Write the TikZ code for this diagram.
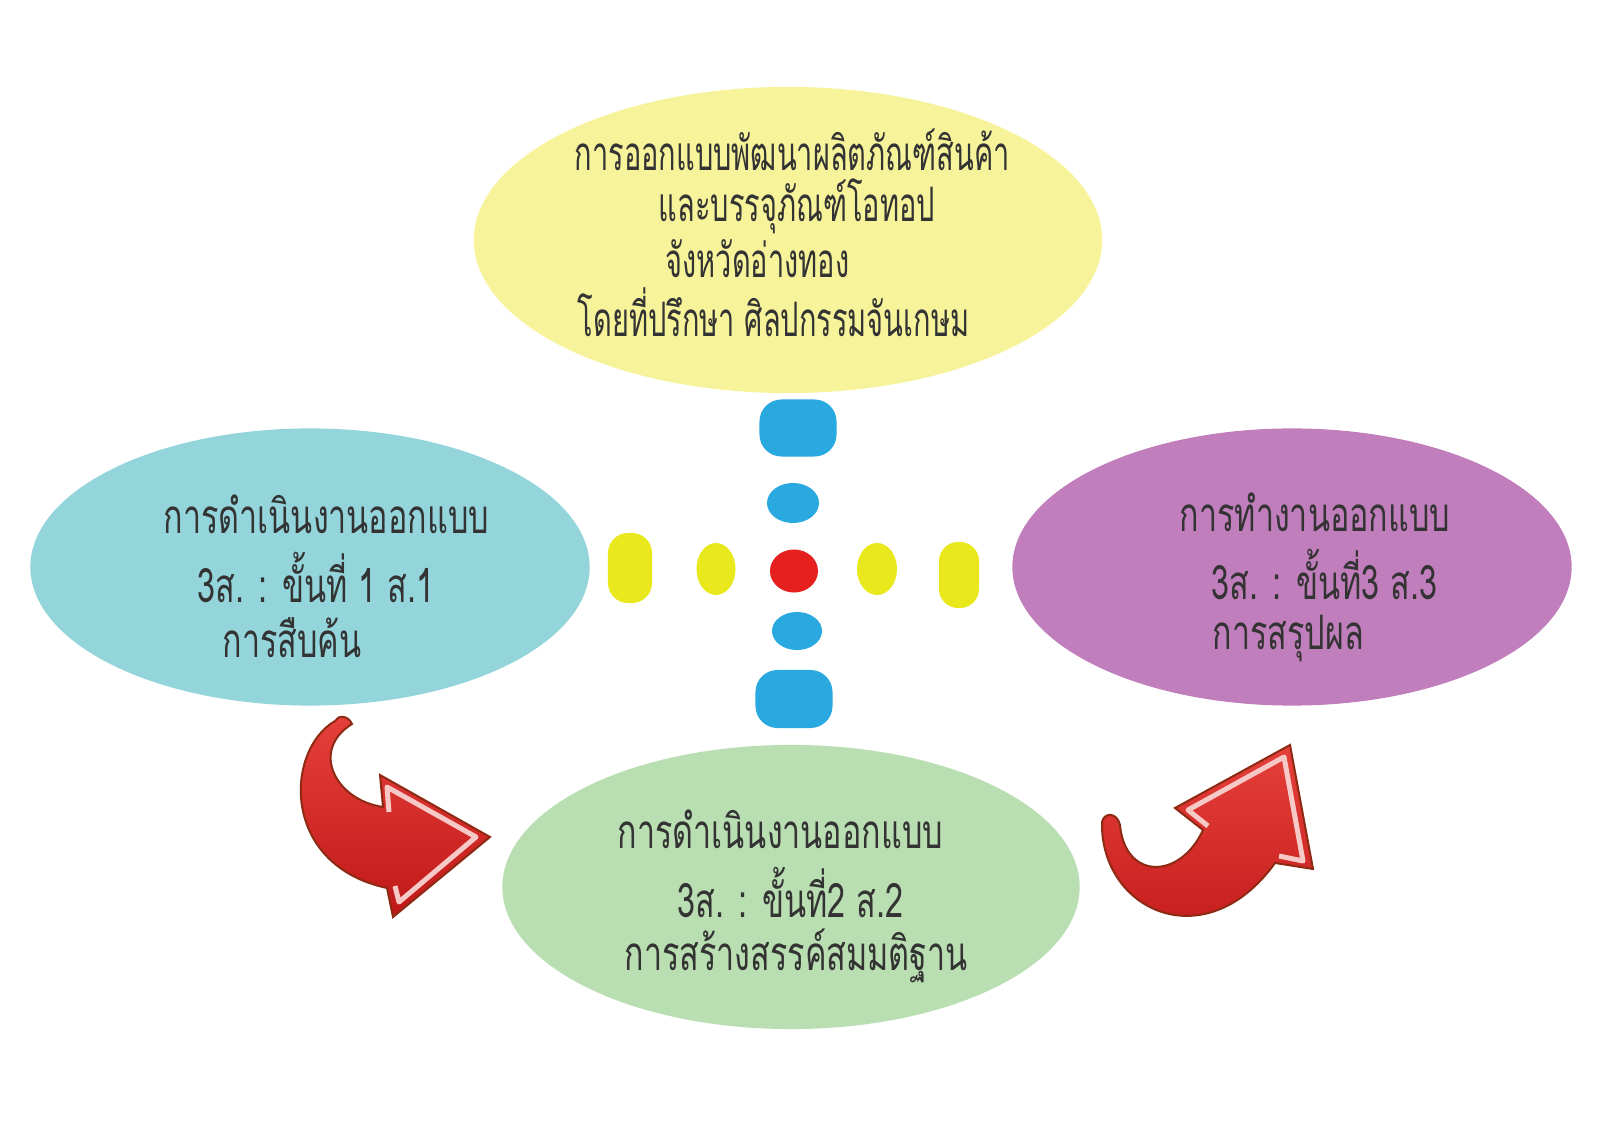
\documentclass[tikz,border=0pt]{standalone}
\usepackage{fontspec}
\usepackage{tikz}
\usetikzlibrary{shapes.geometric, calc}
\usepackage{xcolor}
\newfontfamily\thaifont[Script=Thai, FakeStretch=0.61]{Loma}
\newfontfamily\thaiwide[Script=Thai, FakeStretch=0.68]{Loma}
\definecolor{ovyellow}{HTML}{F7F39B}
\definecolor{ovcyan}{HTML}{93D5DB}
\definecolor{ovpurple}{HTML}{C17EBC}
\definecolor{ovgreen}{HTML}{B9DEB1}
\definecolor{dotblue}{HTML}{2AA9E1}
\definecolor{dotyellow}{HTML}{E9E81C}
\definecolor{dotred}{HTML}{E5201E}
\definecolor{arrred}{HTML}{E6403B}
\definecolor{arrdark}{HTML}{C01818}
\definecolor{arrline}{HTML}{8E2A14}
\definecolor{arrpink}{HTML}{F6C9C6}
\definecolor{txtgray}{HTML}{333333}

\begin{document}
\begin{tikzpicture}[x=0.01cm, y=-0.01cm,
    oval/.style={ellipse, inner sep=0pt},
    lbl/.style={anchor=west, inner sep=0pt, text=txtgray,
                font=\thaifont\fontsize{13.5}{16}\selectfont},
    steplbl/.style={lbl, font=\thaiwide\fontsize{13.5}{16}\selectfont},
    pill/.style={rectangle, rounded corners=0.22cm, inner sep=0pt, fill=#1},
    blob/.style={ellipse, inner sep=0pt, fill=#1},
    bigarrow/.style={draw=arrline, line width=0.02cm, top color=arrred, bottom color=arrdark},
    headband/.style={draw=arrpink, line width=0.05cm, line join=round}]
    \useasboundingbox (0,0) rectangle (1600,1131);
    \fill[white] (0,0) rectangle (1600,1131);

    % the four ovals
    \node[oval, fill=ovyellow, minimum width=6.28cm, minimum height=3.06cm] (goal) at (788,240) {};
    \node[oval, fill=ovcyan, minimum width=5.59cm, minimum height=2.77cm] (stepone) at (310,567) {};
    \node[oval, fill=ovpurple, minimum width=5.59cm, minimum height=2.77cm] (stepthree) at (1292,567) {};
    \node[oval, fill=ovgreen, minimum width=5.77cm, minimum height=2.84cm] (steptwo) at (791,887) {};

    % texts
    \node[lbl] (g1) at (574,150) {การออกแบบพัฒนาผลิตภัณฑ์สินค้า};
    \node[lbl] (g2) at (658,206) {และบรรจุภัณฑ์โอทอป};
    \node[lbl] (g3) at (665,259) {จังหวัดอ่างทอง};
    \node[lbl] (g4) at (577,312) {โดยที่ปรึกษา ศิลปกรรมจันเกษม};

    \node[steplbl] (s11) at (163,514) {การดำเนินงานออกแบบ};
    \node[steplbl] (s12) at (197,577) {3ส. : ขั้นที่ 1 ส.1};
    \node[steplbl] (s13) at (222,638) {การสืบค้น};

    \node[steplbl] (s21) at (617,829) {การดำเนินงานออกแบบ};
    \node[steplbl] (s22) at (677,892) {3ส. : ขั้นที่2 ส.2};
    \node[steplbl] (s23) at (624,956) {การสร้างสรรค์สมมติฐาน};

    \node[steplbl] (s31) at (1179,512) {การทำงานออกแบบ};
    \node[steplbl] (s32) at (1211,574) {3ส. : ขั้นที่3 ส.3};
    \node[steplbl] (s33) at (1212,639) {การสรุปผล};

    % the cross of dots
    \node[pill=dotblue, minimum width=0.77cm, minimum height=0.57cm] (bt1) at (798,428) {};
    \node[blob=dotblue, minimum width=0.52cm, minimum height=0.40cm] (bt2) at (793,503) {};
    \node[blob=dotred, minimum width=0.48cm, minimum height=0.43cm] (rc) at (794,571) {};
    \node[blob=dotblue, minimum width=0.50cm, minimum height=0.38cm] (bb2) at (797,631) {};
    \node[pill=dotblue, minimum width=0.77cm, minimum height=0.58cm] (bb1) at (794,699) {};
    \node[pill=dotyellow, rounded corners=0.2cm, minimum width=0.44cm, minimum height=0.70cm] (yl1) at (630,568) {};
    \node[blob=dotyellow, minimum width=0.39cm, minimum height=0.52cm] (yl2) at (716,569) {};
    \node[blob=dotyellow, minimum width=0.40cm, minimum height=0.52cm] (yr2) at (877,569) {};
    \node[pill=dotyellow, rounded corners=0.19cm, minimum width=0.40cm, minimum height=0.66cm] (yr1) at (959,575) {};

    % red arrows
    \draw[bigarrow] (335,721) .. controls (285,750) and (280,865) .. (387,888)
        -- (393,917) -- (490,837) -- (380,775) -- (383,807)
        .. controls (335,800) and (310,750) .. (352,724)
        .. controls (348,715) and (338,715) .. (335,721) -- cycle;
    \draw[headband] (389,812) -- (387,787) -- (476,837) -- (399,902) -- (395,886);

    \draw[bigarrow] (1102,822) .. controls (1100,910) and (1205,960) .. (1275,863)
        -- (1313,869) -- (1290,745) -- (1175,808) -- (1203,830)
        .. controls (1180,880) and (1125,880) .. (1120,825)
        .. controls (1117,812) and (1104,812) .. (1102,822) -- cycle;
    \draw[headband] (1208,826) -- (1188,810) -- (1284,757) -- (1303,861) -- (1279,856);
\end{tikzpicture}
\end{document}
